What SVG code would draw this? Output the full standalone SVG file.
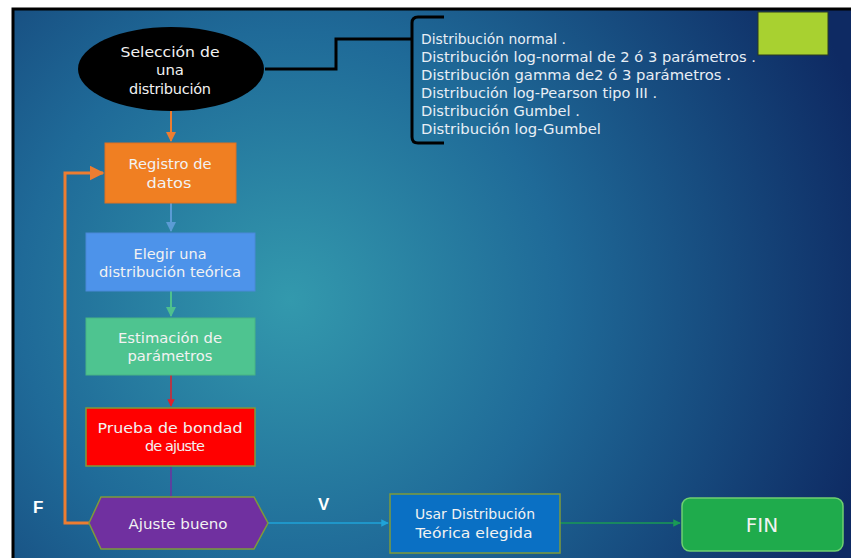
<svg xmlns="http://www.w3.org/2000/svg" width="851" height="558" viewBox="0 0 851 558">
<defs>
<radialGradient id="bg" cx="290" cy="300" r="600" gradientUnits="userSpaceOnUse">
<stop offset="0" stop-color="#3399ad"/>
<stop offset="0.45" stop-color="#1f6a98"/>
<stop offset="1" stop-color="#0e2a63"/>
</radialGradient>
<marker id="ao" viewBox="0 0 10 10" refX="9" refY="5" markerWidth="5" markerHeight="5" orient="auto"><path d="M0,0L10,5L0,10z" fill="#ed7d31"/></marker>
<marker id="ab" viewBox="0 0 10 10" refX="9" refY="5" markerWidth="5" markerHeight="5" orient="auto"><path d="M0,0L10,5L0,10z" fill="#5b9bd5"/></marker>
<marker id="ag" viewBox="0 0 10 10" refX="9" refY="5" markerWidth="5" markerHeight="5" orient="auto"><path d="M0,0L10,5L0,10z" fill="#4ec08e"/></marker>
<marker id="ar" viewBox="0 0 10 10" refX="9" refY="5" markerWidth="5" markerHeight="5" orient="auto"><path d="M0,0L10,5L0,10z" fill="#e0202a"/></marker>
<marker id="ac" viewBox="0 0 10 10" refX="9" refY="5" markerWidth="5" markerHeight="5" orient="auto"><path d="M0,0L10,5L0,10z" fill="#1fa3d8"/></marker>
<marker id="agr" viewBox="0 0 10 10" refX="9" refY="5" markerWidth="5" markerHeight="5" orient="auto"><path d="M0,0L10,5L0,10z" fill="#1a9a55"/></marker>
</defs>
<style>
text{font-family:"DejaVu Sans","Liberation Sans",sans-serif;fill:#f2f2f2;font-size:14.5px;text-anchor:middle}
.list{text-anchor:start;font-size:14px;fill:#e8eef5}
.lbl{font-family:"Liberation Sans",sans-serif;font-weight:bold;font-size:17px;fill:#fff}
.box{stroke:#7f9a3a;stroke-width:1.5}
</style>
<rect x="0" y="0" width="851" height="558" fill="#ffffff"/>
<rect x="13" y="9" width="850" height="560" fill="url(#bg)" stroke="#000" stroke-width="3"/>

<g id="connectors" fill="none" stroke-width="2">
<path d="M265,69 H336 V39 H412" stroke="#000" stroke-width="3"/>
<path d="M444,17 H418 Q412,17 412,23 V137 Q412,143 418,143 H444" stroke="#000" stroke-width="3"/>
<path d="M171,111 V141" stroke="#ed7d31" marker-end="url(#ao)"/>
<path d="M171,203 V231" stroke="#5b9bd5" marker-end="url(#ab)"/>
<path d="M171,291 V316" stroke="#4ec08e" marker-end="url(#ag)"/>
<path d="M171,375 V406" stroke="#e0202a" stroke-width="1.5" marker-end="url(#ar)"/>
<path d="M171,466 V497" stroke="#7030a0" stroke-width="1.5"/>
<path d="M89,523 H65 V173 H103" stroke="#ed7d31" stroke-width="3" marker-end="url(#ao)"/>
<path d="M268,523 H388" stroke="#1fa3d8" stroke-width="1.5" marker-end="url(#ac)"/>
<path d="M560,523 H680" stroke="#1a9a55" stroke-width="1.5" marker-end="url(#agr)"/>
</g>

<g id="seleccion">
<ellipse cx="171" cy="69" rx="93" ry="42" fill="#000"/>
<text x="170" y="57" textLength="99" lengthAdjust="spacingAndGlyphs">Selección de</text>
<text x="170" y="75" textLength="28" lengthAdjust="spacingAndGlyphs">una</text>
<text x="170" y="94" textLength="82" lengthAdjust="spacing">distribución</text>
</g>

<g id="lista">
<text class="list" x="421" y="44" textLength="145" lengthAdjust="spacingAndGlyphs">Distribución normal .</text>
<text class="list" x="421" y="62" textLength="335" lengthAdjust="spacingAndGlyphs">Distribución log-normal de 2 ó 3 parámetros .</text>
<text class="list" x="421" y="80" textLength="310" lengthAdjust="spacingAndGlyphs">Distribución gamma de2 ó 3 parámetros .</text>
<text class="list" x="421" y="98" textLength="236" lengthAdjust="spacingAndGlyphs">Distribución log-Pearson tipo III .</text>
<text class="list" x="421" y="116" textLength="159" lengthAdjust="spacingAndGlyphs">Distribución Gumbel .</text>
<text class="list" x="421" y="134" textLength="180" lengthAdjust="spacingAndGlyphs">Distribución log-Gumbel</text>
</g>

<g id="cuadro-verde">
<rect x="758" y="12" width="70" height="43" fill="#a8d130" stroke="#2a3a20" stroke-width="1"/>
</g>

<g id="registro">
<rect x="105" y="143" width="131" height="60" fill="#f07f22" stroke="#e07020" stroke-width="1"/>
<text x="170" y="169" textLength="83" lengthAdjust="spacingAndGlyphs">Registro de</text>
<text x="169" y="188" textLength="45" lengthAdjust="spacingAndGlyphs">datos</text>
</g>

<g id="elegir">
<rect x="86" y="233" width="169" height="58" fill="#4d93ea" stroke="#4a88d8" stroke-width="1"/>
<text x="170" y="259" textLength="73" lengthAdjust="spacingAndGlyphs">Elegir una</text>
<text x="170" y="277" textLength="142" lengthAdjust="spacingAndGlyphs">distribución teórica</text>
</g>

<g id="estimacion">
<rect x="86" y="318" width="169" height="57" fill="#4ec490" stroke="#48b484" stroke-width="1"/>
<text x="170" y="343" textLength="104" lengthAdjust="spacingAndGlyphs">Estimación de</text>
<text x="170" y="361" textLength="85" lengthAdjust="spacingAndGlyphs">parámetros</text>
</g>

<g id="prueba">
<rect x="86" y="408" width="169" height="58" class="box" fill="#ff0000"/>
<text x="170" y="433" textLength="145" lengthAdjust="spacingAndGlyphs">Prueba de bondad</text>
<text x="175" y="451" textLength="60" lengthAdjust="spacing">de ajuste</text>
</g>

<g id="ajuste">
<polygon points="89,523 101,497 254,497 268,523 254,549 101,549" class="box" fill="#7030a0"/>
<text x="178" y="529" textLength="99" lengthAdjust="spacingAndGlyphs">Ajuste bueno</text>
</g>

<g id="usar">
<rect x="390" y="494" width="170" height="59" class="box" fill="#0a70c4"/>
<text x="475" y="519" style="font-size:13.5px" textLength="120" lengthAdjust="spacingAndGlyphs">Usar Distribución</text>
<text x="474" y="538" style="font-size:13.5px" textLength="117" lengthAdjust="spacingAndGlyphs">Teórica elegida</text>
</g>

<g id="fin">
<rect x="682" y="498" width="161" height="53" rx="8" fill="#1fab4c" stroke="#6fd070" stroke-width="1.5"/>
<text x="762" y="532" style="font-size:20px">FIN</text>
</g>

<text class="lbl" x="33" y="513" style="text-anchor:start">F</text>
<text class="lbl" x="318" y="510" style="text-anchor:start">V</text>
</svg>
